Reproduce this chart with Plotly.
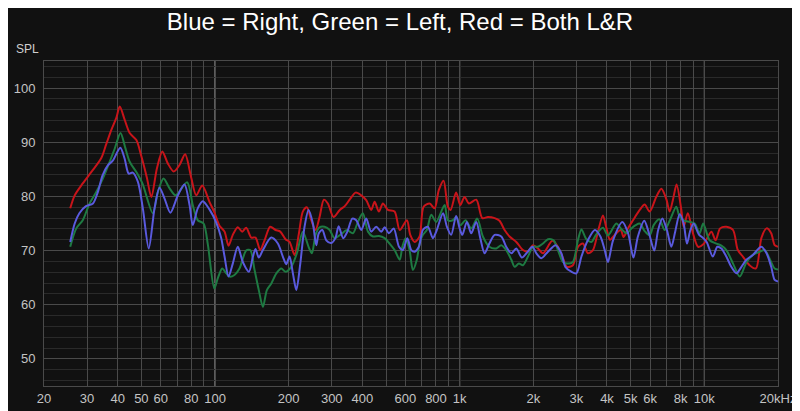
import plotly.graph_objects as go

# ---------------- data ----------------
red_freq = [25.6, 26.7, 28.8, 31.7, 34.3, 35.9, 37.7, 39.5, 40.8, 42.7, 44.8, 47.7, 50.0, 52.7, 54.9,
            57.9, 60.9, 64.1, 67.8, 71.6, 75.5, 80.0, 83.8, 88.7, 94.9, 99.5, 104.3, 109.4, 113.6,
            118.2, 123.9, 129.2, 134.1, 140.7, 146.4, 153.0, 159.4, 168.1, 176.8, 184.8, 194.2,
            201.7, 211.3, 220.3, 228.5, 237.3, 247.4, 257.6, 267.5, 278.5, 289.2, 305.1, 323.5,
            339, 354.9, 375.5, 396, 415, 434.9, 449, 467.6, 485.6, 509, 542, 568.7, 608.5, 628,
            654.6, 685.6, 712, 753.5, 789.5, 822, 859.5, 894.9, 918, 967, 1006, 1047, 1091, 1169,
            1237, 1304, 1390, 1455, 1526, 1599, 1704, 1814, 1902, 1993, 2089, 2189, 2391, 2521,
            2642, 2745, 2902, 3043, 3189, 3343, 3506, 3675, 3850, 3977, 4115, 4303, 4549, 4680,
            4874, 5110, 5443, 5702, 5977, 6357, 6673, 6993, 7213, 7450, 7700, 8053, 8230, 8560,
            8982, 9430, 9934, 10680, 11120, 11600, 12300, 13100, 13700, 14370, 15300, 16250,
            17100, 17960, 18760, 19380, 20000]
red_db = [77.8, 80.2, 82.4, 84.9, 87.1, 89.6, 92.3, 94.5, 96.6, 94.2, 91.7, 90.4, 87.4, 83.4, 79.9,
          85.2, 88.3, 86.1, 84.6, 85.8, 87.8, 83.4, 80.2, 82.0, 79.0, 77.0, 74.6, 73.5, 70.9,
          72.9, 74.3, 73.5, 74.2, 72.4, 72.4, 70.1, 71.9, 74.4, 73.8, 73.5, 72.1,
          71.6, 69.2, 73.2, 77.2, 78.0, 75.6, 73.8, 76.2, 79.4, 78.7, 76.2, 77.5,
          78.2, 79.4, 80.7, 80.2, 79.3, 77.5, 79.0, 77.2, 78.7, 77.5, 77.2, 73.8, 75.6, 72.9,
          71.6, 72.6, 78.1, 78.7, 77.8, 81.2, 82.9, 78.1, 77.5, 80.7, 78.4, 79.9, 78.7, 79.4,
          76.0, 76.2, 76.0, 75.5, 73.8, 72.6, 71.6, 70.1, 69.8, 71.0, 70.4, 69.5, 71.8, 70.7,
          68.6, 67.0, 67.3, 70.7, 71.3, 69.5, 70.1, 73.5, 76.5, 74.2, 72.0, 72.9, 73.8, 72.5,
          74.1, 75.6, 77.5, 78.5, 77.2, 79.9, 81.4, 79.5, 77.2, 79.5, 82.2, 77.5, 74.4, 76.9,
          73.2, 70.7, 71.2, 73.5, 71.9, 74.1, 74.4, 73.8, 70.1, 68.9, 67.3, 66.7,
          72.3, 74.1, 73.2, 71.0, 70.7]

green_freq = [25.6, 27.1, 28.8, 30.7, 32.7, 34.8, 37.1, 38.9, 41.1, 42.9, 44.8, 47.7, 50.5, 55.7,
              58.4, 61.6, 65.2, 69.0, 76.9, 81.1, 85.0, 89.8, 93.5, 99.3, 102.7, 107, 111.2,
              114.5, 120.1, 125.9, 134.1, 139.3, 145.1, 151, 157, 162.9, 169.7, 178.1, 186.6,
              194.2, 205, 216.1, 228.5, 241.2, 248.9, 257.6, 267.5, 280.5, 294.2, 307.9, 327,
              346, 366, 383.7, 402, 421.8, 442, 467.6, 493.5, 517, 542, 568.7, 582.8, 601, 624,
              643.8, 668, 685.6, 707.3, 734, 765.7, 802, 868, 895, 937, 967, 1006, 1057, 1115,
              1180, 1244, 1322, 1411, 1479, 1550, 1626, 1677, 1746, 1814, 1902, 1993, 2089,
              2189, 2295, 2420, 2521, 2642, 2770, 2902, 3043, 3145, 3297, 3454, 3615, 3850,
              4038, 4367, 4577, 4815, 5033, 5240, 5443, 5702, 5977, 6208, 6546, 6882, 7213,
              7680, 7925, 8310, 8720, 9130, 9560, 9890, 10510, 11200, 11740, 12300, 13100,
              13960, 14850, 15790, 16850, 17640, 18560, 19380, 20000]
green_db = [70.7, 74.1, 75.6, 78.7, 80.8, 83.3, 86.4, 88.8, 91.7, 89.1, 86.4, 84.5, 82.4, 76.9,
            80.8, 83.3, 81.5, 80.2, 82.6, 78.4, 75.6, 75.0, 71.1, 63.0, 64.9, 66.7, 65.8,
            65.2, 65.5, 66.7, 70.0, 70.1, 66.4, 62.7, 59.6, 62.7, 63.9, 65.8, 66.7,
            66.1, 67.0, 69.5, 73.5, 70.7, 69.5, 72.9, 74.3, 74.4, 73.8, 72.3, 73.0,
            73.8, 73.2, 75.3, 76.9, 73.5, 72.6, 72.7, 72.3, 71.3, 70.1, 68.3, 70.7, 72.3, 70.1,
            66.4, 68.3, 71.3, 72.9, 73.8, 76.6, 75.3, 78.4, 75.6, 75.6, 76.2, 74.7, 75.6, 74.1,
            75.9, 72.6, 70.7, 70.4, 71.0, 70.1, 68.3, 67.0, 67.6, 67.3, 68.9, 70.7, 70.7,
            71.3, 72.1, 71.9, 70.1, 67.9, 67.6, 67.9, 71.9, 73.9, 72.1, 71.6, 73.0, 74.2,
            72.8, 75.0, 74.0, 73.2, 74.1, 74.7, 75.0, 73.6, 72.8, 74.7, 75.8, 73.8, 75.5,
            78.1, 76.2, 75.5, 75.3, 75.0, 73.2, 75.0, 71.9, 71.3, 70.9, 70.1, 67.6,
            65.2, 67.8, 69.2, 69.8, 70.1, 68.3, 66.7, 66.5]

blue_freq = [25.6, 26.7, 27.9, 29.7, 31.7, 33.2, 34.7, 36.4, 38.2, 41.0, 42.7, 44.4, 46.1, 48.4,
             50.7, 53.6, 56.6, 59.3, 62.2, 65.7, 70.5, 75.0, 78.7, 81.1, 85.0, 89.1, 94.9, 101.1,
             106.0, 109.4, 113.6, 118.2, 123.9, 129.9, 137.6, 142.9, 146.4, 151, 156.9, 169.7,
             180.7, 189.3, 195.5, 201.6, 208.1, 215, 223.1, 232.2, 241.2, 251.2, 259.3, 265.6,
             274.6, 284.9, 298.6, 310.5, 320.1, 334.2, 347.5, 364, 377.9, 396, 415, 435, 456,
             478, 493.5, 514, 537.5, 565, 586, 611, 634, 654.6, 681, 707, 741, 777, 802, 855,
             887, 923, 967, 1000, 1025, 1070, 1115, 1169, 1214, 1264, 1322, 1390, 1479, 1550,
             1626, 1704, 1795, 1875, 1982, 2058, 2157, 2295, 2467, 2603, 2704, 2860, 3000, 3145,
             3340, 3570, 3760, 3915, 4038, 4235, 4625, 4880, 5130, 5350, 5680, 5940, 6240, 6475,
             6735, 7030, 7330, 7600, 7925, 8230, 8490, 8770, 9045, 9490, 9890, 10220, 10830,
             11300, 11740, 12300, 12890, 13520, 14180, 14850, 15790, 17100, 17960, 18760,
             19380, 20000]
blue_db = [71.6, 75.0, 76.9, 78.2, 78.7, 80.8, 83.9, 85.7, 86.6, 89.0, 87.0, 84.2, 84.4, 82.7,
           77.8, 70.4, 77.8, 81.6, 79.6, 77.0, 80.2, 82.2, 78.4, 74.7, 77.8, 79.1, 77.6, 75.2,
           72.3, 68.9, 65.2, 67.6, 70.7, 67.9, 66.1, 68.9, 70.3, 68.7, 70.1, 72.4,
           71.3, 68.9, 67.5, 68.9, 65.8, 62.7, 67.6, 74.4, 77.5, 75.0, 71.0, 73.2,
           73.8, 71.9, 71.4, 72.3, 74.5, 72.3, 73.5, 75.9, 75.6, 73.8, 75.9, 73.5, 74.4,
           73.5, 74.3, 73.2, 74.1, 70.7, 70.1, 72.3, 70.1, 69.8, 70.7, 73.8, 74.4, 72.3, 73.5, 76.9,
           74.4, 72.9, 76.4, 74.1, 72.9, 75.3, 73.2, 75.3, 72.3, 69.5, 71.3, 72.9, 72.6, 70.7,
           69.5, 70.4, 68.7, 69.5, 70.7, 69.5, 68.6, 69.8, 71.0, 69.5, 67.0, 66.1, 65.8, 68.9,
           71.9, 73.8, 72.6, 70.1, 67.9, 71.9, 75.3, 73.2, 68.7, 72.6, 75.5, 73.2, 70.0, 73.8,
           75.9, 73.8, 70.7, 73.5, 76.7, 75.0, 71.3, 73.8, 75.0, 73.0, 72.3, 71.6, 68.9,
           70.7, 70.4, 68.9, 67.0, 65.8, 67.0, 68.3, 69.2, 70.7, 69.5, 67.0,
           64.6, 64.3]

x_tickvals = [20, 30, 40, 50, 60, 70, 80, 90, 100, 200, 300, 400, 500, 600, 700, 800, 900,
              1000, 2000, 3000, 4000, 5000, 6000, 7000, 8000, 9000, 10000, 20000]
x_ticktext = ["20", "30", "40", "50", "60", "", "80", "", "100", "200", "300", "400", "", "600",
              "", "800", "", "1k", "2k", "3k", "4k", "5k", "6k", "", "8k", "", "10k", "20kHz"]
decades = [100, 1000, 10000]
y_tickvals = [50, 60, 70, 80, 90, 100]

title_text = "Blue = Right, Green = Left, Red = Both L&R"
y_label = "SPL"

# ---------------- figure ----------------
# The page body keeps its default 8px margin, so the figure is sized 792x403
# to fill the 800x411 window exactly.
BG = "#111111"
FONT = "Liberation Sans, Arial, sans-serif"
W, H = 792, 403

fig = go.Figure()
for f, v, col in [(red_freq, red_db, "#c8141a"),
                  (green_freq, green_db, "#1e7a42"),
                  (blue_freq, blue_db, "#5a5ade")]:
    fig.add_trace(go.Scatter(x=f, y=v, mode="lines",
                             line=dict(color=col, width=2, shape="spline", smoothing=0.8),
                             hoverinfo="skip", showlegend=False))

for d in decades:
    fig.add_shape(type="line", xref="x", yref="paper", x0=d, x1=d, y0=0, y1=1,
                  line=dict(color="#a8a8a8", width=1), layer="between")

fig.update_layout(
    width=W, height=H,
    paper_bgcolor=BG, plot_bgcolor=BG,
    margin=dict(l=36, r=22, t=53, b=25, autoexpand=False),
    showlegend=False,
    title=dict(text=title_text, x=(400 - 8) / W, xanchor="center", xref="container",
               y=1 - 14 / H, yref="container", yanchor="middle",
               font=dict(family=FONT, size=24, color="#ffffff")),
    font=dict(family=FONT, size=13, color="#c4c4c4"),
)

fig.update_xaxes(type="log", range=[1.30103, 4.30103], automargin=False,
                 tickmode="array", tickvals=x_tickvals, ticktext=x_ticktext,
                 showgrid=True, gridcolor="#4a4a4a", gridwidth=1,
                 showline=True, linecolor="#4a4a4a", linewidth=1, mirror=True,
                 ticks="", zeroline=False, tickfont=dict(size=13, color="#c4c4c4"))
fig.update_yaxes(range=[45, 105], tickmode="array", tickvals=y_tickvals, automargin=False,
                 showgrid=True, gridcolor="#4a4a4a", gridwidth=1,
                 minor=dict(dtick=2, tick0=0, showgrid=True, gridcolor="#2a2a2a", gridwidth=1),
                 showline=True, linecolor="#4a4a4a", linewidth=1, mirror=True,
                 ticks="", zeroline=False, tickfont=dict(size=13, color="#c4c4c4"),
                 ticklabelstandoff=5)

plot_w = W - 36 - 22
plot_h = H - 53 - 25
fig.add_annotation(text=y_label, xref="paper", yref="paper",
                   x=(27 - 44) / plot_w, y=(386 - 49) / plot_h, showarrow=False,
                   xanchor="center", yanchor="middle",
                   font=dict(family=FONT, size=12, color="#cfcfcf"))

fig.write_html("out.html")
